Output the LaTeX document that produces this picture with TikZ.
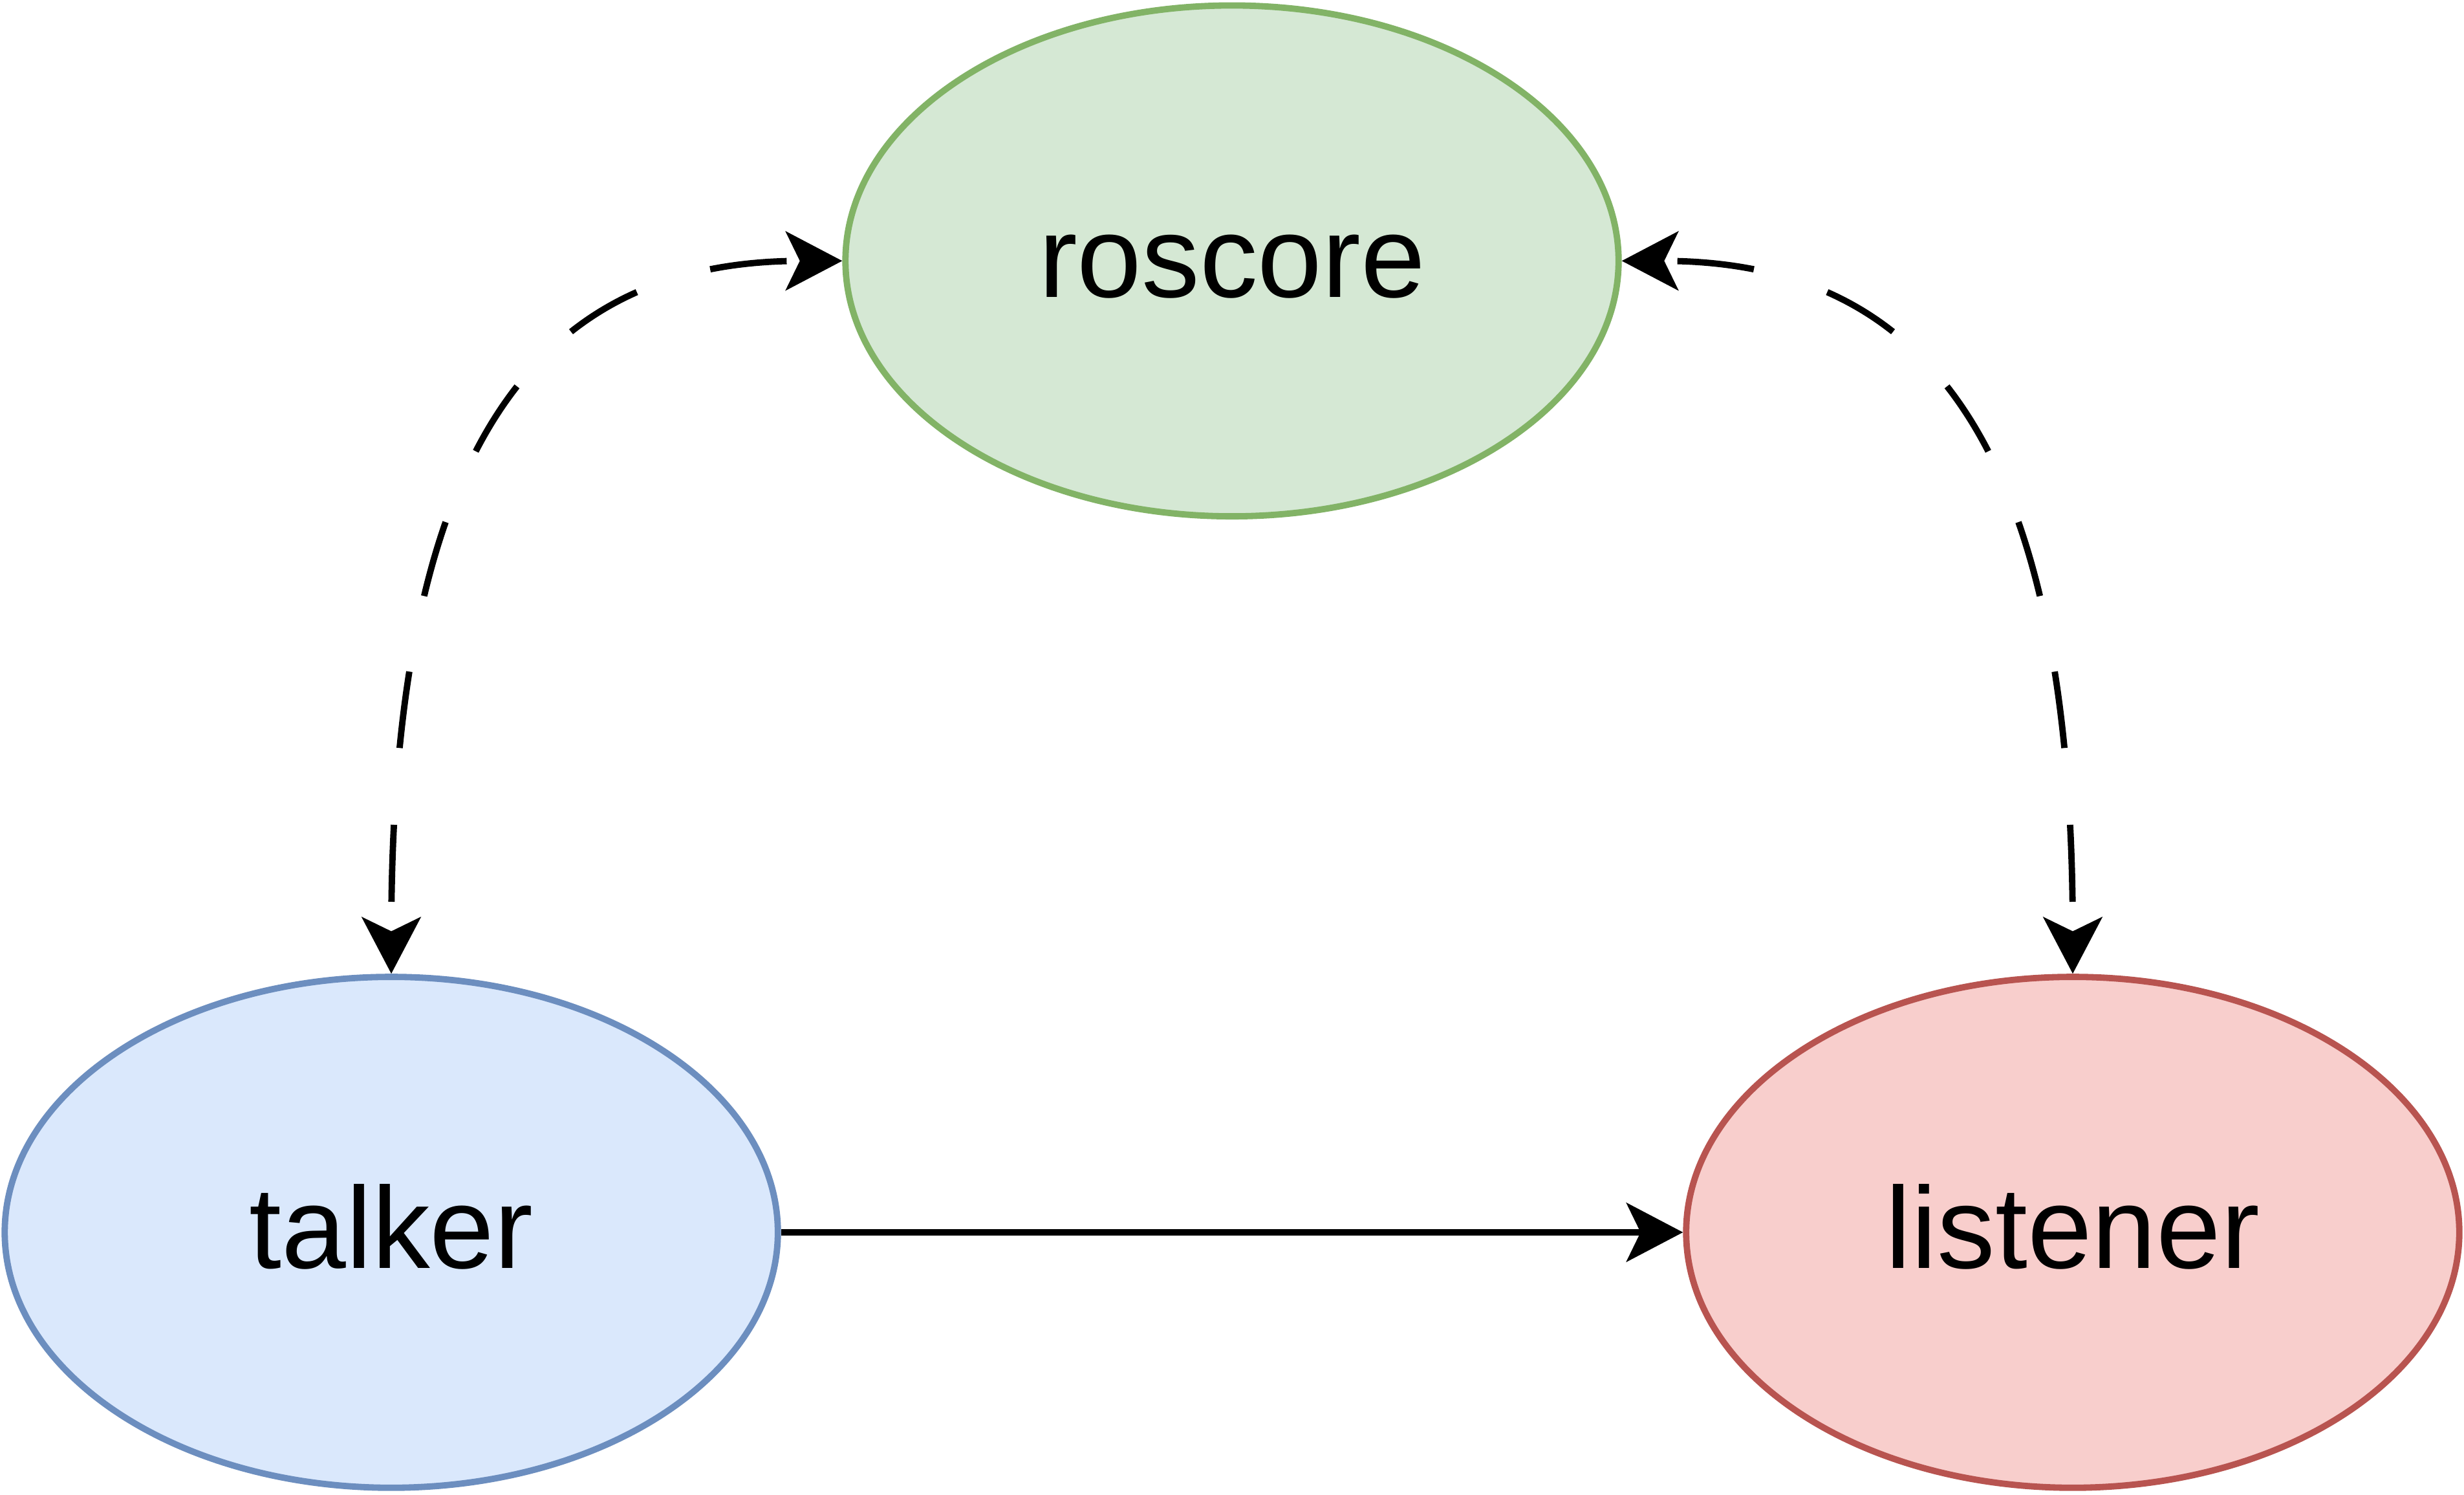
\documentclass[tikz,border=0pt]{standalone}
\usepackage{fontspec}
\setmainfont{Liberation Sans}
\usepackage{tikz}
\usetikzlibrary{shapes.geometric,arrows.meta}

\definecolor{bluefill}{HTML}{DAE8FC}
\definecolor{bluedraw}{HTML}{6C8EBF}
\definecolor{greenfill}{HTML}{D5E8D4}
\definecolor{greendraw}{HTML}{82B366}
\definecolor{redfill}{HTML}{F8CECC}
\definecolor{reddraw}{HTML}{B85450}

\begin{document}
\begin{tikzpicture}[line width=1.15pt,
  >={Stealth[length=3.6mm, width=3.75mm, inset=0.9mm]},
  rosnode/.style={ellipse, draw, inner sep=0pt, minimum width=4.92cm, minimum height=3.25cm,
    text height=0.55cm, text depth=0.09cm, font=\fontsize{21}{25}\selectfont},
  dashlink/.style={<->, dash pattern=on 4.9mm off 4.9mm, dash phase=7.8mm}]
\useasboundingbox (0,0) rectangle (15.68,9.51);
\node[rosnode, draw=greendraw, fill=greenfill] (roscore) at (7.84,7.85) {roscore};
\node[rosnode, draw=bluedraw, fill=bluefill] (talker) at (2.49,1.67) {talker};
\node[rosnode, draw=reddraw, fill=redfill] (listener) at (13.19,1.67) {listener};
% master links
\draw[dashlink] (talker.north) .. controls +(0,3.5) and +(-1.85,0) .. (roscore.west);
\draw[dashlink] (listener.north) .. controls +(0,3.5) and +(1.85,0) .. (roscore.east);
% topic
\draw[->] (talker.east) -- (listener.west);
\end{tikzpicture}
\end{document}
